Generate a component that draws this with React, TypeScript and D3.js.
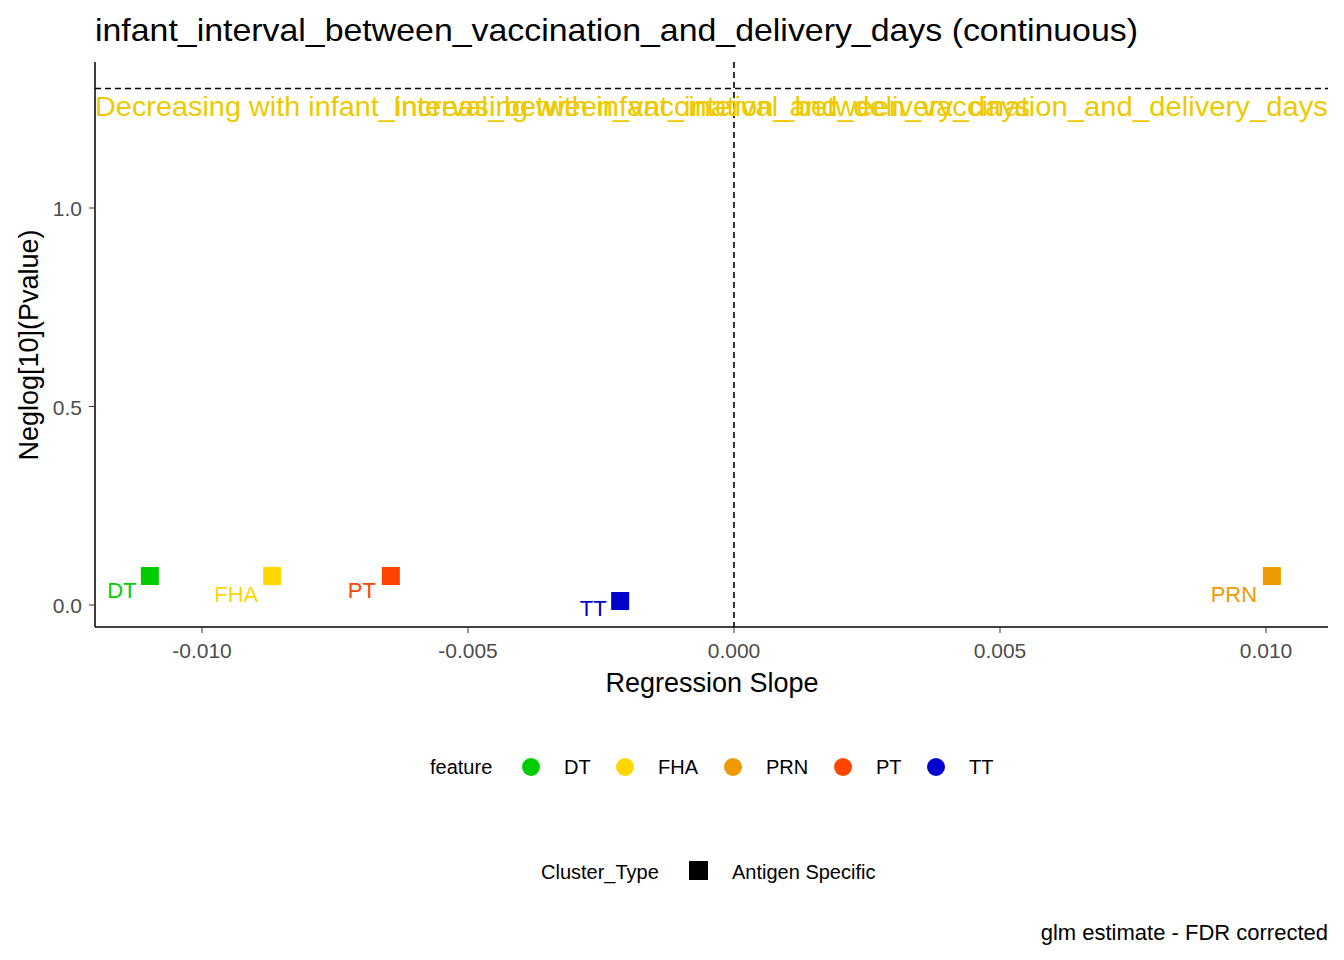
import * as d3 from 'd3';

const features = ['DT', 'FHA', 'PRN', 'PT', 'TT'];
const featureColors = ['#00CD00', '#FFD700', '#EE9A00', '#FF4500', '#0000CD'];
const slopes = [-0.01098, -0.00868, 0.01011, -0.00645, -0.00214];
const neglogP = [0.073, 0.073, 0.073, 0.073, 0.01];
// label nudges (px) as placed by the repel layout
const labelDx = [-28, -36, -38, -29, -27];
const labelDy = [22, 26, 26, 22, 15];
const xTicks = [-0.01, -0.005, 0, 0.005, 0.01];
const yTicks = [0, 0.5, 1.0];
const sigLine = -Math.log10(0.05);

const W = 1344;
const H = 960;
const left = 95, right = 1328, top = 62, bottom = 627;
const FONT = 'Arial, "Liberation Sans", sans-serif';

export default function App() {
  const x = d3.scaleLinear().domain([-0.01, 0.01]).range([202, 1266]);
  const y = d3.scaleLinear().domain([0, 1]).range([605, 208]);
  const annot = '#EEC900';

  return (
    <svg width={W} height={H} style={{ position: 'absolute', left: 0, top: 0, background: '#fff' }} fontFamily={FONT}>
      <text x={95} y={41} fontSize={32} fill="#000" textLength={1043} lengthAdjust="spacingAndGlyphs">
        infant_interval_between_vaccination_and_delivery_days (continuous)
      </text>
      {/* reference lines */}
      <line x1={left} x2={right} y1={y(sigLine)} y2={y(sigLine)} stroke="#000" strokeWidth={1.6} strokeDasharray="6,4" />
      <line x1={x(0)} x2={x(0)} y1={top} y2={bottom} stroke="#000" strokeWidth={1.6} strokeDasharray="6,4" />
      <text x={left} y={116} fontSize={28} fill={annot} textLength={935} lengthAdjust="spacingAndGlyphs">
        Decreasing with infant_interval_between_vaccination_and_delivery_days
      </text>
      <text x={right} y={116} fontSize={28} fill={annot} textAnchor="end" textLength={935} lengthAdjust="spacingAndGlyphs">
        Increasing with infant_interval_between_vaccination_and_delivery_days
      </text>
      {/* axes */}
      <line x1={left} x2={left} y1={top} y2={bottom} stroke="#000" strokeWidth={1.5} />
      <line x1={left} x2={right} y1={bottom} y2={bottom} stroke="#000" strokeWidth={1.5} />
      {xTicks.map((t) => (
        <g key={t}>
          <line x1={x(t)} x2={x(t)} y1={bottom} y2={bottom + 6} stroke="#333" />
          <text x={x(t)} y={bottom + 31} fontSize={21} fill="#4d4d4d" textAnchor="middle">
            {d3.format('.3f')(t).replace('−', '-')}
          </text>
        </g>
      ))}
      {yTicks.map((t) => (
        <g key={t}>
          <line x1={left - 6} x2={left} y1={y(t)} y2={y(t)} stroke="#333" />
          <text x={left - 13} y={y(t) + 8} fontSize={21} fill="#4d4d4d" textAnchor="end">
            {t.toFixed(1)}
          </text>
        </g>
      ))}
      <text x={712} y={692} fontSize={27} textAnchor="middle">Regression Slope</text>
      <text transform={`translate(38,345) rotate(-90)`} fontSize={27} textAnchor="middle">Neglog[10](Pvalue)</text>
      {/* points */}
      {features.map((f, i) => (
        <g key={f}>
          <rect x={x(slopes[i]) - 9} y={y(neglogP[i]) - 9} width={18} height={18} fill={featureColors[i]} />
          <text x={x(slopes[i]) + labelDx[i]} y={y(neglogP[i]) + labelDy[i]} fontSize={22} fill={featureColors[i]} textAnchor="middle">
            {f}
          </text>
        </g>
      ))}
      {/* legends */}
      <text x={430} y={774} fontSize={20}>feature</text>
      {features.map((f, i) => {
        const cx = [531, 625, 733, 843, 936][i];
        return (
          <g key={f}>
            <circle cx={cx} cy={767} r={9} fill={featureColors[i]} />
            <text x={cx + 33} y={774} fontSize={20}>{f}</text>
          </g>
        );
      })}
      <text x={541} y={879} fontSize={20}>Cluster_Type</text>
      <rect x={689} y={861} width={19} height={19} fill="#000" />
      <text x={732} y={879} fontSize={20}>Antigen Specific</text>
      <text x={1328} y={940} fontSize={22} textAnchor="end">glm estimate - FDR corrected</text>
    </svg>
  );
}
